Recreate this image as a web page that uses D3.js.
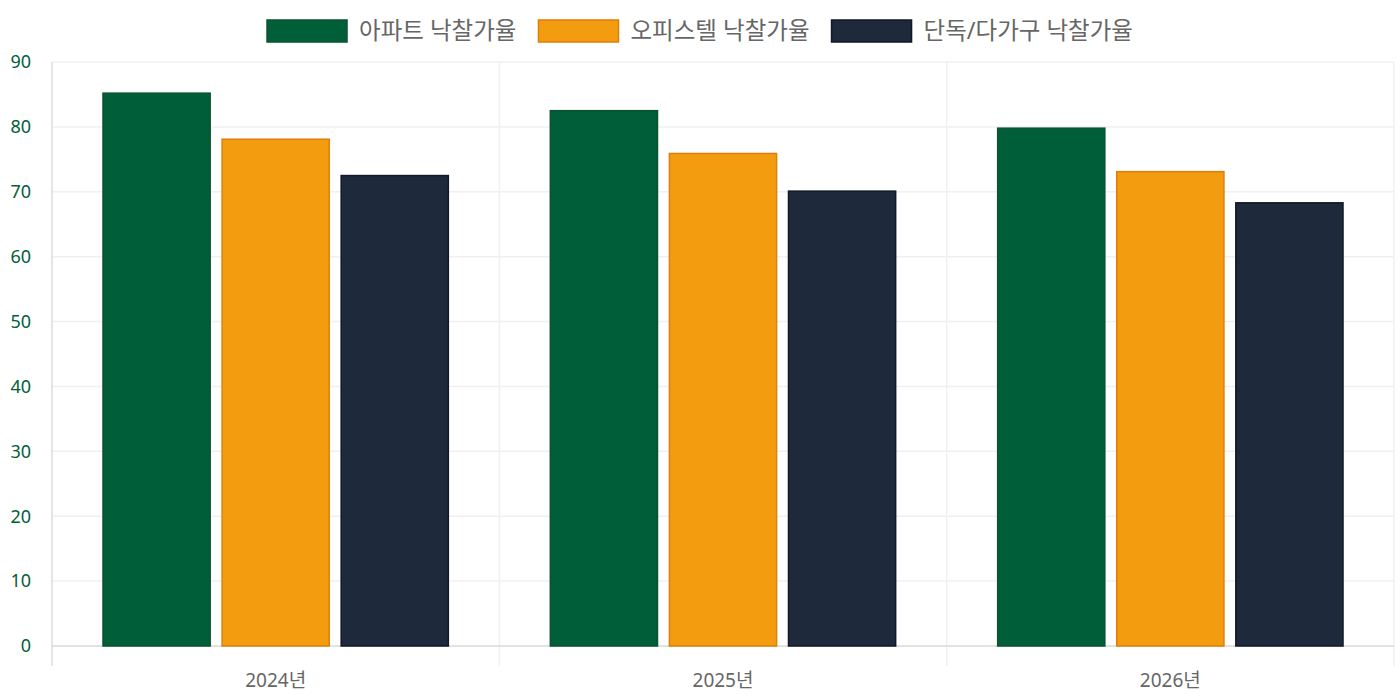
<!DOCTYPE html>
<html>
<head>
<meta charset="utf-8">
<script src="https://cdn.jsdelivr.net/npm/d3@7"></script>
<style>
  body { margin: 0; background: #fff; }
  svg { font-family: "Noto Sans", "Noto Sans CJK KR", sans-serif; }
</style>
</head>
<body>
<div id="chart"></div>
<script>
// 데이터
const years = ["2024년", "2025년", "2026년"];
const seriesNames = ["아파트 낙찰가율", "오피스텔 낙찰가율", "단독/다가구 낙찰가율"];
const apartment = [85.2, 82.5, 79.8];
const officetel = [78.1, 75.9, 73.1];
const detached = [72.5, 70.1, 68.3];
const yTicks = [0, 10, 20, 30, 40, 50, 60, 70, 80, 90];

const fills = ["#005f38", "#f39c0f", "#1e293b"];
const strokes = ["#0a5232", "#df7e0b", "#111827"];

const width = 1400;
const height = 700;
const margin = { top: 62, right: 6, bottom: 54, left: 52 };
const innerW = width - margin.left - margin.right;
const innerH = height - margin.top - margin.bottom;

const svg = d3.select("#chart")
  .append("svg")
  .attr("width", width)
  .attr("height", height);

const g = svg.append("g")
  .attr("transform", `translate(${margin.left},${margin.top})`);

const x0 = d3.scaleBand().domain(years).range([0, innerW]).paddingInner(0).paddingOuter(0);
const x1 = d3.scaleBand().domain(d3.range(3))
  .range([51, x0.bandwidth() - 51]).paddingInner(0.1).paddingOuter(0);
const y = d3.scaleLinear().domain([0, 90]).range([innerH, 0]);

// 가로 그리드
g.append("g").selectAll("line")
  .data(yTicks.filter(d => d > 0))
  .join("line")
  .attr("x1", 0).attr("x2", innerW)
  .attr("y1", d => y(d)).attr("y2", d => y(d))
  .attr("stroke", "#f0f0f0").attr("stroke-width", 1.5);

// 세로 구분선
const bounds = years.map(d => x0(d)).concat([innerW]);
g.append("g").selectAll("line")
  .data(bounds)
  .join("line")
  .attr("x1", d => d).attr("x2", d => d)
  .attr("y1", 0).attr("y2", innerH + 20)
  .attr("stroke", (d, i) => i === 0 ? "#dddddd" : "#f0f0f0")
  .attr("stroke-width", 1.5);

// x축 선
g.append("line")
  .attr("x1", 0).attr("x2", innerW)
  .attr("y1", innerH).attr("y2", innerH)
  .attr("stroke", "#d9d9d9").attr("stroke-width", 1.5);

// y축 라벨
g.append("g").selectAll("text")
  .data(yTicks)
  .join("text")
  .attr("x", -21)
  .attr("y", d => y(d))
  .attr("dy", "0.35em")
  .attr("text-anchor", "end")
  .attr("fill", "#006039")
  .attr("font-size", 18)
  .text(d => d);

// x축 라벨
g.append("g").selectAll("text")
  .data(years)
  .join("text")
  .attr("x", d => x0(d) + x0.bandwidth() / 2)
  .attr("y", innerH + 34)
  .attr("dy", "0.35em")
  .attr("text-anchor", "middle")
  .attr("fill", "#666")
  .attr("font-size", 19)
  .text(d => d);

// 막대
const seriesValues = [apartment, officetel, detached];
years.forEach((yr, i) => {
  const grp = g.append("g").attr("transform", `translate(${x0(yr)},0)`);
  seriesValues.forEach((vals, s) => {
    grp.append("rect")
      .attr("x", x1(s))
      .attr("y", y(vals[i]))
      .attr("width", x1.bandwidth())
      .attr("height", innerH - y(vals[i]))
      .attr("fill", fills[s])
      .attr("stroke", strokes[s])
      .attr("stroke-width", 1.5);
  });
});

// 범례
const legend = svg.append("g");
const items = legend.selectAll("g")
  .data(seriesNames)
  .join("g");
items.append("rect")
  .attr("width", 80).attr("height", 22)
  .attr("y", 20)
  .attr("fill", (d, i) => fills[i])
  .attr("stroke", (d, i) => strokes[i])
  .attr("stroke-width", 1.5);
items.append("text")
  .attr("x", 92)
  .attr("y", 31)
  .attr("dy", "0.35em")
  .attr("fill", "#666")
  .attr("font-size", 23.5)
  .text(d => d);

let offset = 0;
const positions = [];
items.each(function () {
  const w = 92 + d3.select(this).select("text").node().getComputedTextLength();
  positions.push(offset);
  offset += w + 22;
});
const total = offset - 22;
const start = (width - total) / 2;
items.attr("transform", (d, i) => `translate(${start + positions[i]},0)`);
</script>
</body>
</html>
